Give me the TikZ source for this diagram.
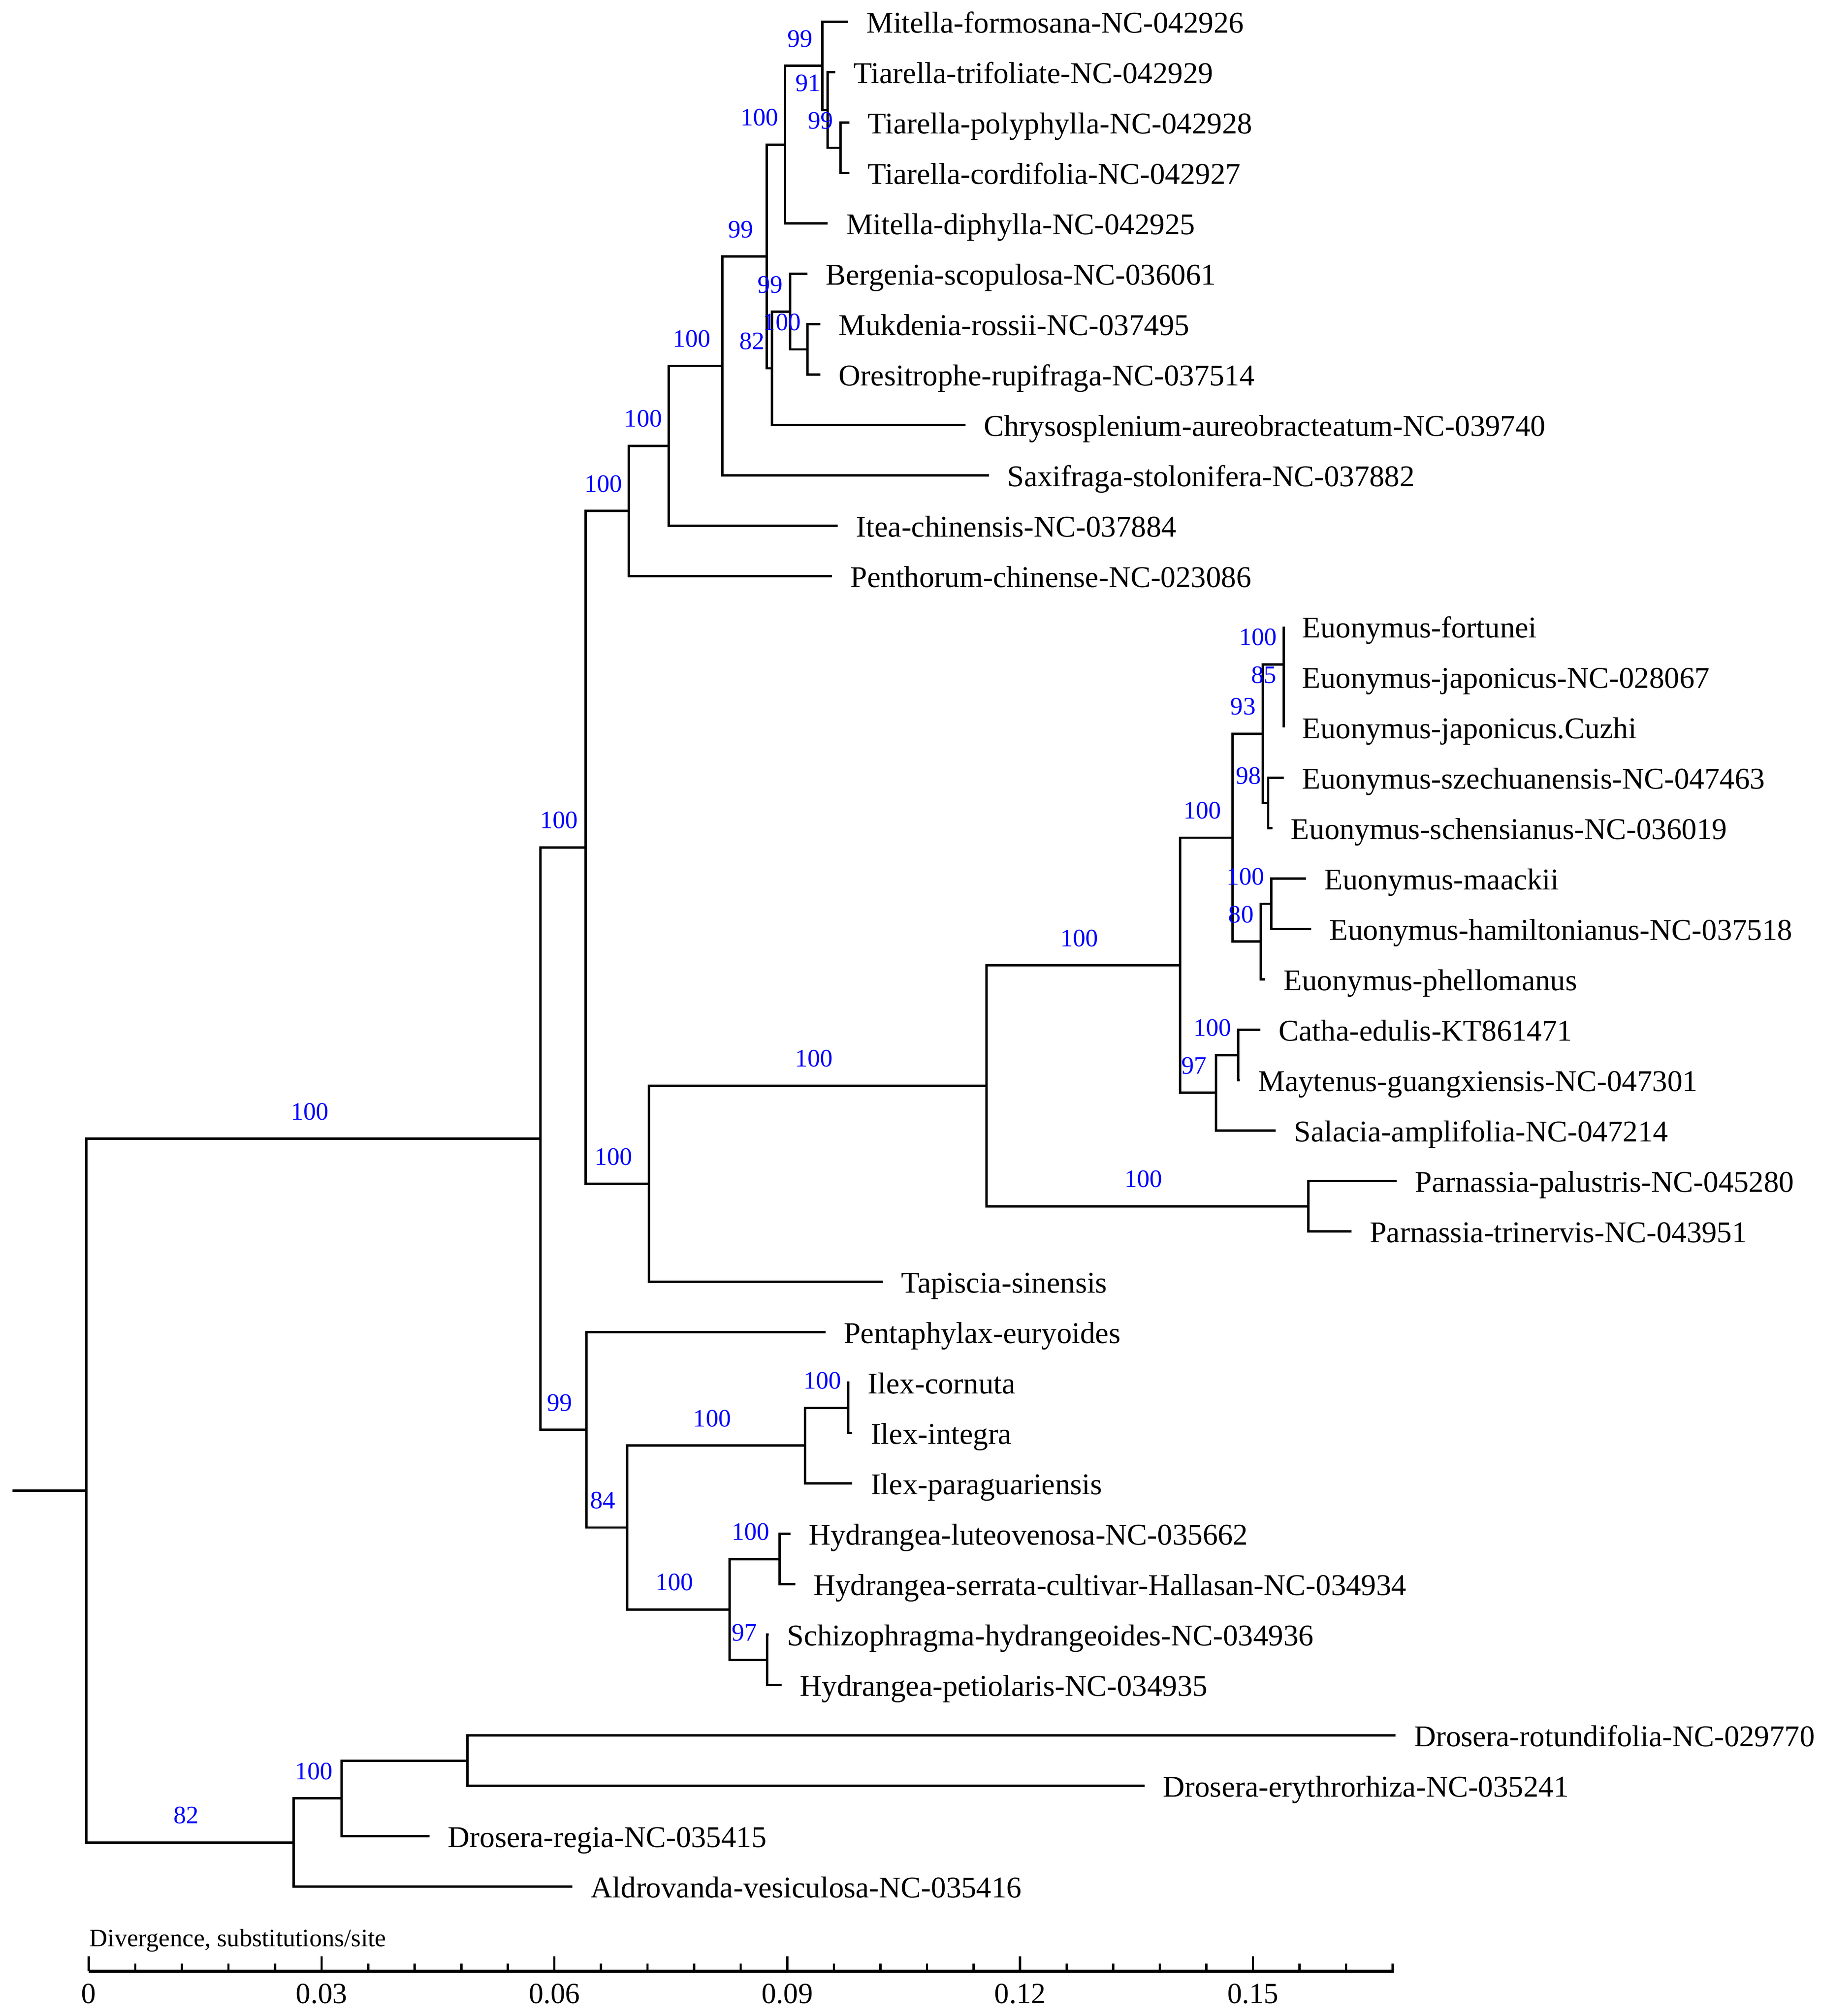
\documentclass[tikz,border=0pt]{standalone}
\usepackage{fontspec}
\setmainfont{Liberation Serif}
\usepackage{xcolor}
\usepackage{tikz}

\begin{document}
\begin{tikzpicture}[
		x=0.02cm, y=-0.02cm,
		% Define styles for the branches and the labels
		branch_line/.style={
			draw=black,
			line width=1.05pt
		},
		leaf_label/.style={
			anchor=base west,
			inner sep=0pt,
			xshift=0.28cm,
			yshift=-0.172cm,
			font=\fontsize{13.4}{15}\selectfont
		},
		support_label/.style={
			anchor=base,
			inner sep=0pt,
			text=blue,
			font=\fontsize{11.15}{13}\selectfont
		},
		axis_line/.style={
			draw=black,
			line width=1.43pt
		},
		tick_line/.style={
			draw=black,
			line width=1pt
		},
		tick_label/.style={
			anchor=base,
			inner sep=0pt,
			font=\fontsize{13}{15}\selectfont
		},
		]
		\useasboundingbox (0,0) rectangle (1420.1,1572.8);
		
		% ----- Internal nodes -----
		\coordinate (root_stub) at (9.7, 1162.87);
		\coordinate (n_root) at (67.4, 1162.87);
		\coordinate (n_core) at (421.5, 888.30);
		\coordinate (n_upper) at (456.7, 661.10);
		\coordinate (n_saxifragales) at (490.5, 398.68);
		\coordinate (n_itea_grp) at (521.6, 347.84);
		\coordinate (n_saxifraga_grp) at (563.3, 285.48);
		\coordinate (n_mitella_bergenia) at (597.9, 200.08);
		\coordinate (n_mitella) at (612.3, 112.84);
		\coordinate (n_formosana) at (641.4, 51.41);
		\coordinate (n_tiarella) at (645.6, 85.81);
		\coordinate (n_tiarella_pc) at (655.5, 115.30);
		\coordinate (n_bergenia_chryso) at (602.0, 287.33);
		\coordinate (n_bergenia) at (616.2, 243.09);
		\coordinate (n_mukdenia) at (629.8, 272.58);
		\coordinate (n_celastr_tapiscia) at (506.0, 923.51);
		\coordinate (n_celastr_parnassia) at (769.3, 847.02);
		\coordinate (n_celastraceae) at (920.3, 753.02);
		\coordinate (n_euonymus) at (961.3, 653.49);
		\coordinate (n_euo_a) at (985.0, 572.40);
		\coordinate (n_euo_fortunei) at (1001.2, 518.33);
		\coordinate (n_euo_japonicus) at (1001.2, 547.82);
		\coordinate (n_euo_szech) at (989.1, 626.46);
		\coordinate (n_euo_b) at (983.4, 734.59);
		\coordinate (n_euo_maackii) at (991.4, 705.10);
		\coordinate (n_catha_salacia) at (948.3, 852.55);
		\coordinate (n_catha) at (965.6, 823.06);
		\coordinate (n_parnassia) at (1020.3, 941.02);
		\coordinate (n_lower) at (457.4, 1115.51);
		\coordinate (n_ilex_hydr) at (489.0, 1191.69);
		\coordinate (n_ilex) at (627.8, 1127.79);
		\coordinate (n_ilex_ci) at (661.4, 1098.30);
		\coordinate (n_hydr) at (568.9, 1255.58);
		\coordinate (n_hydr_lut) at (608.0, 1216.26);
		\coordinate (n_hydr_sch) at (598.3, 1294.90);
		\coordinate (n_droseraceae) at (229.1, 1437.44);
		\coordinate (n_drosera) at (266.4, 1403.03);
		\coordinate (n_drosera_re) at (364.6, 1373.54);
		
		% ----- Tips -----
		\coordinate (tip_formosana) at (661.5, 17.00);
		\coordinate (tip_trifoliate) at (651.5, 56.32);
		\coordinate (tip_polyphylla) at (662.4, 95.64);
		\coordinate (tip_cordifolia) at (662.4, 134.96);
		\coordinate (tip_diphylla) at (645.6, 174.28);
		\coordinate (tip_bergenia) at (629.8, 213.60);
		\coordinate (tip_mukdenia) at (639.9, 252.92);
		\coordinate (tip_oresitrophe) at (639.9, 292.24);
		\coordinate (tip_chrysosplenium) at (753.0, 331.56);
		\coordinate (tip_saxifraga) at (771.3, 370.88);
		\coordinate (tip_itea) at (653.4, 410.20);
		\coordinate (tip_penthorum) at (649.0, 449.52);
		\coordinate (tip_fortunei) at (1001.2, 488.84);
		\coordinate (tip_japonicus) at (1001.2, 528.16);
		\coordinate (tip_cuzhi) at (1001.2, 567.48);
		\coordinate (tip_szechuanensis) at (1001.2, 606.80);
		\coordinate (tip_schensianus) at (992.5, 646.12);
		\coordinate (tip_maackii) at (1018.5, 685.44);
		\coordinate (tip_hamiltonianus) at (1022.6, 724.76);
		\coordinate (tip_phellomanus) at (986.8, 764.08);
		\coordinate (tip_catha) at (983.0, 803.40);
		\coordinate (tip_maytenus) at (967.0, 842.72);
		\coordinate (tip_salacia) at (995.0, 882.04);
		\coordinate (tip_palustris) at (1089.3, 921.36);
		\coordinate (tip_trinervis) at (1054.0, 960.68);
		\coordinate (tip_tapiscia) at (688.6, 1000.00);
		\coordinate (tip_pentaphylax) at (643.8, 1039.32);
		\coordinate (tip_cornuta) at (662.5, 1078.64);
		\coordinate (tip_integra) at (664.8, 1117.96);
		\coordinate (tip_paraguariensis) at (664.8, 1157.28);
		\coordinate (tip_luteovenosa) at (616.4, 1196.60);
		\coordinate (tip_serrata) at (620.2, 1235.92);
		\coordinate (tip_schizophragma) at (599.5, 1275.24);
		\coordinate (tip_petiolaris) at (609.7, 1314.56);
		\coordinate (tip_rotundifolia) at (1088.5, 1353.88);
		\coordinate (tip_erythrorhiza) at (892.7, 1393.20);
		\coordinate (tip_regia) at (335.1, 1432.52);
		\coordinate (tip_aldrovanda) at (446.4, 1471.84);
		
		% ----- Leaf labels -----
		\node[leaf_label] (lab_formosana) at (tip_formosana) {Mitella-formosana-NC-042926};
		\node[leaf_label] (lab_trifoliate) at (tip_trifoliate) {Tiarella-trifoliate-NC-042929};
		\node[leaf_label] (lab_polyphylla) at (tip_polyphylla) {Tiarella-polyphylla-NC-042928};
		\node[leaf_label] (lab_cordifolia) at (tip_cordifolia) {Tiarella-cordifolia-NC-042927};
		\node[leaf_label] (lab_diphylla) at (tip_diphylla) {Mitella-diphylla-NC-042925};
		\node[leaf_label] (lab_bergenia) at (tip_bergenia) {Bergenia-scopulosa-NC-036061};
		\node[leaf_label] (lab_mukdenia) at (tip_mukdenia) {Mukdenia-rossii-NC-037495};
		\node[leaf_label] (lab_oresitrophe) at (tip_oresitrophe) {Oresitrophe-rupifraga-NC-037514};
		\node[leaf_label] (lab_chrysosplenium) at (tip_chrysosplenium) {Chrysosplenium-aureobracteatum-NC-039740};
		\node[leaf_label] (lab_saxifraga) at (tip_saxifraga) {Saxifraga-stolonifera-NC-037882};
		\node[leaf_label] (lab_itea) at (tip_itea) {Itea-chinensis-NC-037884};
		\node[leaf_label] (lab_penthorum) at (tip_penthorum) {Penthorum-chinense-NC-023086};
		\node[leaf_label] (lab_fortunei) at (tip_fortunei) {Euonymus-fortunei};
		\node[leaf_label] (lab_japonicus) at (tip_japonicus) {Euonymus-japonicus-NC-028067};
		\node[leaf_label] (lab_cuzhi) at (tip_cuzhi) {Euonymus-japonicus.Cuzhi};
		\node[leaf_label] (lab_szechuanensis) at (tip_szechuanensis) {Euonymus-szechuanensis-NC-047463};
		\node[leaf_label] (lab_schensianus) at (tip_schensianus) {Euonymus-schensianus-NC-036019};
		\node[leaf_label] (lab_maackii) at (tip_maackii) {Euonymus-maackii};
		\node[leaf_label] (lab_hamiltonianus) at (tip_hamiltonianus) {Euonymus-hamiltonianus-NC-037518};
		\node[leaf_label] (lab_phellomanus) at (tip_phellomanus) {Euonymus-phellomanus};
		\node[leaf_label] (lab_catha) at (tip_catha) {Catha-edulis-KT861471};
		\node[leaf_label] (lab_maytenus) at (tip_maytenus) {Maytenus-guangxiensis-NC-047301};
		\node[leaf_label] (lab_salacia) at (tip_salacia) {Salacia-amplifolia-NC-047214};
		\node[leaf_label] (lab_palustris) at (tip_palustris) {Parnassia-palustris-NC-045280};
		\node[leaf_label] (lab_trinervis) at (tip_trinervis) {Parnassia-trinervis-NC-043951};
		\node[leaf_label] (lab_tapiscia) at (tip_tapiscia) {Tapiscia-sinensis};
		\node[leaf_label] (lab_pentaphylax) at (tip_pentaphylax) {Pentaphylax-euryoides};
		\node[leaf_label] (lab_cornuta) at (tip_cornuta) {Ilex-cornuta};
		\node[leaf_label] (lab_integra) at (tip_integra) {Ilex-integra};
		\node[leaf_label] (lab_paraguariensis) at (tip_paraguariensis) {Ilex-paraguariensis};
		\node[leaf_label] (lab_luteovenosa) at (tip_luteovenosa) {Hydrangea-luteovenosa-NC-035662};
		\node[leaf_label] (lab_serrata) at (tip_serrata) {Hydrangea-serrata-cultivar-Hallasan-NC-034934};
		\node[leaf_label] (lab_schizophragma) at (tip_schizophragma) {Schizophragma-hydrangeoides-NC-034936};
		\node[leaf_label] (lab_petiolaris) at (tip_petiolaris) {Hydrangea-petiolaris-NC-034935};
		\node[leaf_label] (lab_rotundifolia) at (tip_rotundifolia) {Drosera-rotundifolia-NC-029770};
		\node[leaf_label] (lab_erythrorhiza) at (tip_erythrorhiza) {Drosera-erythrorhiza-NC-035241};
		\node[leaf_label] (lab_regia) at (tip_regia) {Drosera-regia-NC-035415};
		\node[leaf_label] (lab_aldrovanda) at (tip_aldrovanda) {Aldrovanda-vesiculosa-NC-035416};
		
		% ----- Branches -----
		% Root and the main split
		\draw[branch_line] (root_stub) -- (n_root);
		\draw[branch_line] (n_root) |- (n_core);
		\draw[branch_line] (n_root) |- (n_droseraceae);
		\draw[branch_line] (n_core) |- (n_upper);
		\draw[branch_line] (n_core) |- (n_lower);
		
		% Saxifragales
		\draw[branch_line] (n_upper) |- (n_saxifragales);
		\draw[branch_line] (n_saxifragales) |- (n_itea_grp);
		\draw[branch_line] (n_saxifragales) |- (tip_penthorum);
		\draw[branch_line] (n_itea_grp) |- (n_saxifraga_grp);
		\draw[branch_line] (n_itea_grp) |- (tip_itea);
		\draw[branch_line] (n_saxifraga_grp) |- (n_mitella_bergenia);
		\draw[branch_line] (n_saxifraga_grp) |- (tip_saxifraga);
		\draw[branch_line] (n_mitella_bergenia) |- (n_mitella);
		\draw[branch_line] (n_mitella_bergenia) |- (n_bergenia_chryso);
		\draw[branch_line] (n_mitella) |- (n_formosana);
		\draw[branch_line] (n_mitella) |- (tip_diphylla);
		\draw[branch_line] (n_formosana) |- (tip_formosana);
		\draw[branch_line] (n_formosana) |- (n_tiarella);
		\draw[branch_line] (n_tiarella) |- (tip_trifoliate);
		\draw[branch_line] (n_tiarella) |- (n_tiarella_pc);
		\draw[branch_line] (n_tiarella_pc) |- (tip_polyphylla);
		\draw[branch_line] (n_tiarella_pc) |- (tip_cordifolia);
		\draw[branch_line] (n_bergenia_chryso) |- (n_bergenia);
		\draw[branch_line] (n_bergenia_chryso) |- (tip_chrysosplenium);
		\draw[branch_line] (n_bergenia) |- (tip_bergenia);
		\draw[branch_line] (n_bergenia) |- (n_mukdenia);
		\draw[branch_line] (n_mukdenia) |- (tip_mukdenia);
		\draw[branch_line] (n_mukdenia) |- (tip_oresitrophe);
		
		% Celastrales, Parnassia and Tapiscia
		\draw[branch_line] (n_upper) |- (n_celastr_tapiscia);
		\draw[branch_line] (n_celastr_tapiscia) |- (n_celastr_parnassia);
		\draw[branch_line] (n_celastr_tapiscia) |- (tip_tapiscia);
		\draw[branch_line] (n_celastr_parnassia) |- (n_celastraceae);
		\draw[branch_line] (n_celastr_parnassia) |- (n_parnassia);
		\draw[branch_line] (n_parnassia) |- (tip_palustris);
		\draw[branch_line] (n_parnassia) |- (tip_trinervis);
		\draw[branch_line] (n_celastraceae) |- (n_euonymus);
		\draw[branch_line] (n_celastraceae) |- (n_catha_salacia);
		\draw[branch_line] (n_euonymus) |- (n_euo_a);
		\draw[branch_line] (n_euonymus) |- (n_euo_b);
		\draw[branch_line] (n_euo_a) |- (n_euo_fortunei);
		\draw[branch_line] (n_euo_a) |- (n_euo_szech);
		\draw[branch_line] (n_euo_fortunei) |- (tip_fortunei);
		\draw[branch_line] (n_euo_fortunei) |- (n_euo_japonicus);
		\draw[branch_line] (n_euo_japonicus) |- (tip_japonicus);
		\draw[branch_line] (n_euo_japonicus) |- (tip_cuzhi);
		\draw[branch_line] (n_euo_szech) |- (tip_szechuanensis);
		\draw[branch_line] (n_euo_szech) |- (tip_schensianus);
		\draw[branch_line] (n_euo_b) |- (n_euo_maackii);
		\draw[branch_line] (n_euo_b) |- (tip_phellomanus);
		\draw[branch_line] (n_euo_maackii) |- (tip_maackii);
		\draw[branch_line] (n_euo_maackii) |- (tip_hamiltonianus);
		\draw[branch_line] (n_catha_salacia) |- (n_catha);
		\draw[branch_line] (n_catha_salacia) |- (tip_salacia);
		\draw[branch_line] (n_catha) |- (tip_catha);
		\draw[branch_line] (n_catha) |- (tip_maytenus);
		
		% Pentaphylax, Ilex and Hydrangea
		\draw[branch_line] (n_lower) |- (tip_pentaphylax);
		\draw[branch_line] (n_lower) |- (n_ilex_hydr);
		\draw[branch_line] (n_ilex_hydr) |- (n_ilex);
		\draw[branch_line] (n_ilex_hydr) |- (n_hydr);
		\draw[branch_line] (n_ilex) |- (n_ilex_ci);
		\draw[branch_line] (n_ilex) |- (tip_paraguariensis);
		\draw[branch_line] (n_ilex_ci) |- (tip_cornuta);
		\draw[branch_line] (n_ilex_ci) |- (tip_integra);
		\draw[branch_line] (n_hydr) |- (n_hydr_lut);
		\draw[branch_line] (n_hydr) |- (n_hydr_sch);
		\draw[branch_line] (n_hydr_lut) |- (tip_luteovenosa);
		\draw[branch_line] (n_hydr_lut) |- (tip_serrata);
		\draw[branch_line] (n_hydr_sch) |- (tip_schizophragma);
		\draw[branch_line] (n_hydr_sch) |- (tip_petiolaris);
		
		% Droseraceae
		\draw[branch_line] (n_droseraceae) |- (n_drosera);
		\draw[branch_line] (n_droseraceae) |- (tip_aldrovanda);
		\draw[branch_line] (n_drosera) |- (n_drosera_re);
		\draw[branch_line] (n_drosera) |- (tip_regia);
		\draw[branch_line] (n_drosera_re) |- (tip_rotundifolia);
		\draw[branch_line] (n_drosera_re) |- (tip_erythrorhiza);
		
		% ----- Support values -----
		\node[support_label] (bs_core) at (241.5, 873.6) {100};
		\node[support_label] (bs_upper) at (436.1, 646.4) {100};
		\node[support_label] (bs_saxifragales) at (470.5, 384.0) {100};
		\node[support_label] (bs_itea_grp) at (501.6, 333.1) {100};
		\node[support_label] (bs_saxifraga_grp) at (539.5, 270.8) {100};
		\node[support_label] (bs_mitella_bergenia) at (577.6, 185.4) {99};
		\node[support_label] (bs_mitella) at (592.3, 98.1) {100};
		\node[support_label] (bs_formosana) at (623.9, 36.7) {99};
		\node[support_label] (bs_tiarella) at (630.1, 71.1) {91};
		\node[support_label] (bs_tiarella_pc) at (640.0, 100.6) {99};
		\node[support_label] (bs_bergenia_chryso) at (586.5, 272.6) {82};
		\node[support_label] (bs_bergenia) at (600.7, 228.4) {99};
		\node[support_label] (bs_mukdenia) at (609.8, 257.9) {100};
		\node[support_label] (bs_celastr_tapiscia) at (478.4, 908.8) {100};
		\node[support_label] (bs_celastr_parnassia) at (634.7, 832.3) {100};
		\node[support_label] (bs_celastraceae) at (841.8, 738.3) {100};
		\node[support_label] (bs_parnassia) at (891.8, 926.3) {100};
		\node[support_label] (bs_euonymus) at (937.8, 638.8) {100};
		\node[support_label] (bs_euo_a) at (969.5, 557.7) {93};
		\node[support_label] (bs_euo_fortunei) at (981.2, 503.6) {100};
		\node[support_label] (bs_euo_japonicus) at (985.7, 533.1) {85};
		\node[support_label] (bs_euo_szech) at (973.6, 611.8) {98};
		\node[support_label] (bs_euo_b) at (967.9, 719.9) {80};
		\node[support_label] (bs_euo_maackii) at (971.4, 690.4) {100};
		\node[support_label] (bs_catha_salacia) at (931.3, 837.9) {97};
		\node[support_label] (bs_catha) at (945.6, 808.4) {100};
		\node[support_label] (bs_lower) at (436.5, 1100.8) {99};
		\node[support_label] (bs_ilex_hydr) at (470.2, 1177.0) {84};
		\node[support_label] (bs_ilex) at (555.4, 1113.1) {100};
		\node[support_label] (bs_ilex_ci) at (641.4, 1083.6) {100};
		\node[support_label] (bs_hydr) at (526.0, 1240.9) {100};
		\node[support_label] (bs_hydr_lut) at (585.5, 1201.6) {100};
		\node[support_label] (bs_hydr_sch) at (580.6, 1280.2) {97};
		\node[support_label] (bs_droseraceae) at (145.3, 1422.7) {82};
		\node[support_label] (bs_drosera) at (244.8, 1388.3) {100};
		
		% ----- Scale axis -----
		\coordinate (axis_start) at (69.2, 1537.8);
		\coordinate (axis_end) at (1087.2, 1537.8);
		\draw[axis_line] (axis_start) -- (axis_end);
		\foreach \k in {0,...,28} {
			\draw[tick_line] (69.2+36.32*\k, 1531.9) -- (69.2+36.32*\k, 1537.8);
		}
		\foreach \k in {0,...,5} {
			\draw[tick_line] (69.2+181.6*\k, 1526.2) -- (69.2+181.6*\k, 1537.8);
		}
		\node[tick_label] (tick_000) at (69.2, 1563) {0};
		\node[tick_label] (tick_003) at (250.8, 1563) {0.03};
		\node[tick_label] (tick_006) at (432.4, 1563) {0.06};
		\node[tick_label] (tick_009) at (614.0, 1563) {0.09};
		\node[tick_label] (tick_012) at (795.6, 1563) {0.12};
		\node[tick_label] (tick_015) at (977.2, 1563) {0.15};
		\node[anchor=base west, inner sep=0pt, font=\fontsize{11.15}{13}\selectfont] (axis_title) at (69.4, 1518.5) {Divergence, substitutions/site};
		
	\end{tikzpicture}
\end{document}
